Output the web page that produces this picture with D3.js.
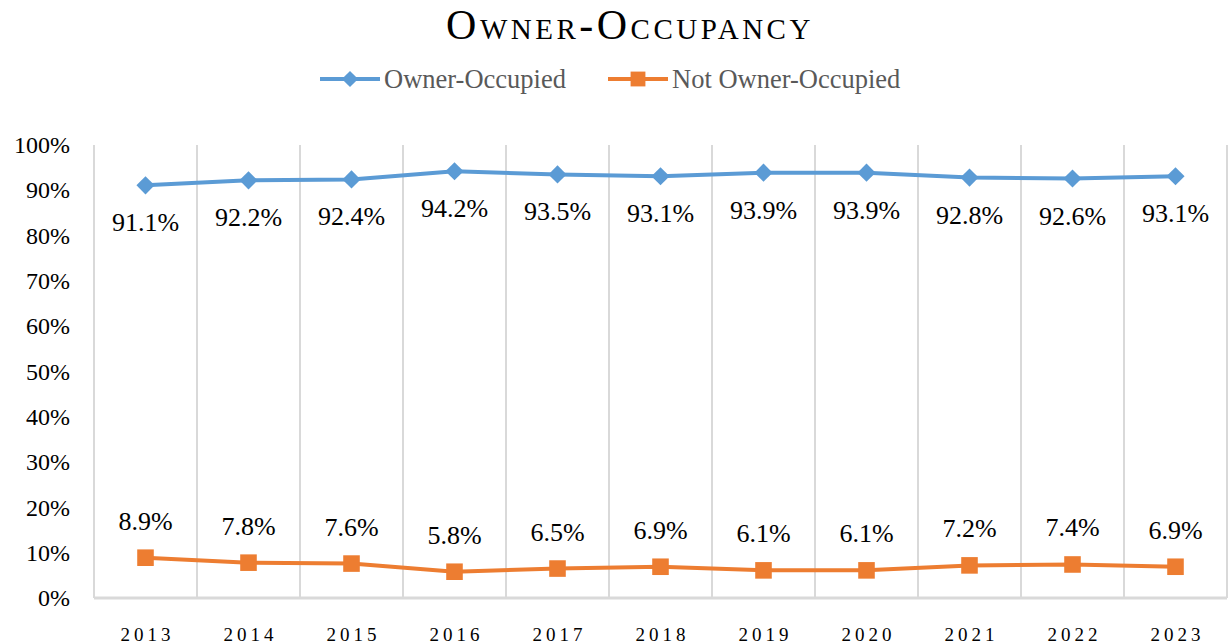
<!DOCTYPE html>
<html>
<head>
<meta charset="utf-8">
<script src="https://cdn.jsdelivr.net/npm/d3@7"></script>
<style>
  body { margin: 0; background: #fff; }
  svg { display: block; }
  svg text { font-family: "Liberation Serif", "Times New Roman", serif; }
</style>
</head>
<body>
<svg width="1228" height="644"></svg>
<script>
const years = ["2013", "2014", "2015", "2016", "2017", "2018", "2019", "2020", "2021", "2022", "2023"];
const ownerOccupied = [91.1, 92.2, 92.4, 94.2, 93.5, 93.1, 93.9, 93.9, 92.8, 92.6, 93.1];
const notOwnerOccupied = [8.9, 7.8, 7.6, 5.8, 6.5, 6.9, 6.1, 6.1, 7.2, 7.4, 6.9];
const yTicks = [0, 10, 20, 30, 40, 50, 60, 70, 80, 90, 100];

const blue = "#5b9bd5", orange = "#ed7d31";
const serif = "Liberation Serif";

const svg = d3.select("svg"),
      margin = {top: 145, right: 1, bottom: 46, left: 94},
      width = +svg.attr("width") - margin.left - margin.right,
      height = +svg.attr("height") - margin.top - margin.bottom;

const g = svg.append("g").attr("transform", `translate(${margin.left},${margin.top})`);

const x = d3.scaleBand().domain(years).range([0, width]);
const y = d3.scaleLinear().domain([0, 100]).range([height, 0]);

// vertical gridlines at category boundaries
g.append("g")
  .selectAll("line")
  .data(years.concat(["end"]))
  .join("line")
  .attr("x1", (d, i) => i * x.step()).attr("x2", (d, i) => i * x.step())
  .attr("y1", 0).attr("y2", height)
  .attr("stroke", "#d9d9d9").attr("stroke-width", 2);

// bottom axis line
g.append("line")
  .attr("x1", 0).attr("x2", width)
  .attr("y1", height).attr("y2", height)
  .attr("stroke", "#d9d9d9").attr("stroke-width", 3);

// y axis labels
g.append("g")
  .call(d3.axisLeft(y).tickValues(yTicks).tickFormat(d => d + "%").tickSize(0).tickPadding(24))
  .call(a => a.select(".domain").remove())
  .attr("font-family", serif)
  .selectAll("text")
  .attr("font-size", 24)
  .attr("fill", "#000");

// x axis labels
g.append("g")
  .attr("transform", `translate(0,${height})`)
  .call(d3.axisBottom(x).tickSize(0).tickPadding(30))
  .call(a => a.select(".domain").remove())
  .attr("font-family", serif)
  .selectAll("text")
  .attr("font-size", 19)
  .attr("letter-spacing", 4)
  .attr("dx", 2)
  .attr("fill", "#000");

const cx = d => x(d) + x.bandwidth() / 2;

const line = d3.line()
  .x((d, i) => cx(years[i]))
  .y(d => y(d));

const series = [
  {name: "Owner-Occupied", values: ownerOccupied, color: blue, symbol: d3.symbolDiamond2, size: 210, labelDy: 46},
  {name: "Not Owner-Occupied", values: notOwnerOccupied, color: orange, symbol: d3.symbolSquare2, size: 350, labelDy: -28}
];

series.forEach(s => {
  g.append("path")
    .datum(s.values)
    .attr("fill", "none")
    .attr("stroke", s.color)
    .attr("stroke-width", 4)
    .attr("d", line);

  g.append("g")
    .selectAll("path")
    .data(s.values)
    .join("path")
    .attr("transform", (d, i) => `translate(${cx(years[i])},${y(d)})`)
    .attr("d", d3.symbol().type(s.symbol).size(s.size))
    .attr("fill", s.color);

  g.append("g")
    .selectAll("text")
    .data(s.values)
    .join("text")
    .attr("x", (d, i) => cx(years[i]))
    .attr("y", d => y(d) + s.labelDy)
    .attr("text-anchor", "middle")
    .attr("font-family", serif)
    .attr("font-size", 26)
    .attr("fill", "#000")
    .text(d => d.toFixed(1) + "%");
});

// title
svg.append("text")
  .attr("x", 630).attr("y", 39)
  .attr("text-anchor", "middle")
  .attr("font-family", serif)
  .attr("font-size", 42)
  .attr("letter-spacing", 3.5)
  .style("font-variant", "small-caps")
  .attr("fill", "#000")
  .text("Owner-Occupancy");

// legend
const legend = svg.append("g").attr("transform", "translate(0,79)");
const legendItems = [
  {x: 320, s: series[0]},
  {x: 608, s: series[1]}
];
legendItems.forEach(({x: lx, s}) => {
  legend.append("line")
    .attr("x1", lx).attr("x2", lx + 60)
    .attr("stroke", s.color).attr("stroke-width", 4);
  legend.append("path")
    .attr("transform", `translate(${lx + 30},0)`)
    .attr("d", d3.symbol().type(s.symbol).size(s.size * 0.8))
    .attr("fill", s.color);
  legend.append("text")
    .attr("x", lx + 64).attr("y", 9)
    .attr("font-family", serif)
    .attr("font-size", 26.5)
    .attr("fill", "#595959")
    .text(s.name);
});
</script>
</body>
</html>
